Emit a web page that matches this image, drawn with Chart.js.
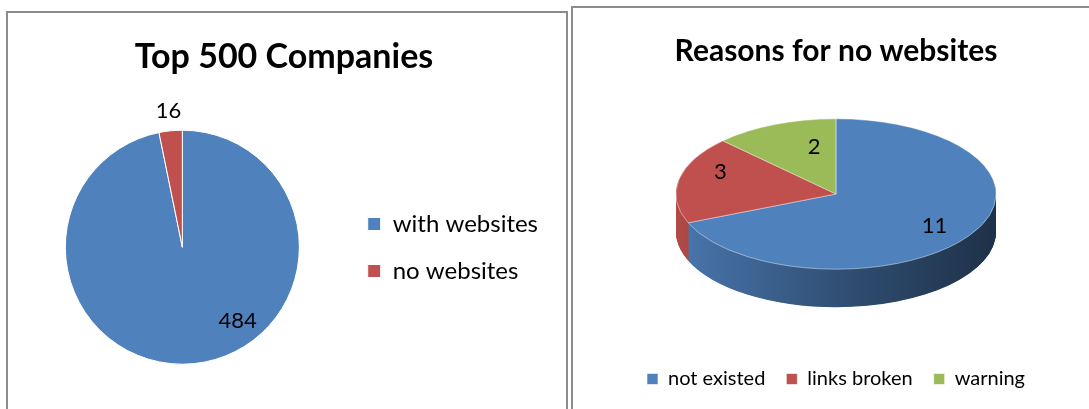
<!DOCTYPE html>
<html>
<head>
<meta charset="utf-8">
<title>Top 500 Companies</title>
<script src="https://cdn.jsdelivr.net/npm/chart.js@4.4.1/dist/chart.umd.min.js"></script>
<style>
  html, body { margin: 0; padding: 0; background: #fff; overflow: hidden; }
  .panel { position: absolute; border: 2px solid #8c8c8c; box-sizing: border-box; background: #fff; }
  #leftPanel { left: 6px; top: 11px; width: 562px; height: 440px; }
  #rightPanel { left: 571px; top: 6px; width: 560px; height: 440px; }
  .panel canvas { position: absolute; left: 0; top: 0; }
</style>
</head>
<body>
<div class="panel" id="leftPanel"><canvas id="companies" width="558" height="396"></canvas></div>
<div class="panel" id="rightPanel"><canvas id="reasons" width="526" height="401"></canvas></div>
<script>
const companyLabels = ['with websites', 'no websites'];
const companyCounts = [484, 16];

const reasonLabels = ['not existed', 'links broken', 'warning'];
const reasonCounts = [11, 3, 2];

const sliceColors = ['#4f81bd', '#c0504d', '#9bbb59'];

const FONT = 'Lato, "Open Sans", sans-serif';
Chart.defaults.font.family = FONT;
Chart.defaults.color = '#000';

const shade = (hex, k) => {
    const n = parseInt(hex.slice(1), 16);
    const r = Math.round(((n >> 16) & 255) * k);
    const g = Math.round(((n >> 8) & 255) * k);
    const b = Math.round((n & 255) * k);
    return `rgb(${r},${g},${b})`;
};

// squashes the pie into an ellipse, extrudes a side wall and writes the values
const pieExtras = {
    id: 'pieExtras',
    beforeDatasetsDraw(chart, args, opts) {
        const arcs = chart.getDatasetMeta(0).data;
        const ctx = chart.ctx;
        const { x, y, outerRadius } = arcs[0];
        const tilt = opts.tilt || 1;
        const depth = opts.depth || 0;
        ctx.save();
        ctx.translate(x, y - (opts.lift || 0));
        ctx.scale(1, tilt);
        ctx.translate(-x, -y);
        if (!depth) return;

        const fills = arcs.map((arc, i) => {
            const base = chart.data.datasets[0].backgroundColor[i];
            const grad = ctx.createLinearGradient(x - outerRadius, 0, x + outerRadius, 0);
            grad.addColorStop(0, shade(base, 0.92));
            grad.addColorStop(0.5, shade(base, 0.62));
            grad.addColorStop(1, shade(base, 0.38));
            return grad;
        });
        // deepest layer first so the rim nearest the top wins
        for (let d = depth; d > 0; d -= 0.5) {
            arcs.forEach((arc, i) => {
                ctx.fillStyle = fills[i];
                ctx.beginPath();
                ctx.moveTo(x, y + d / tilt);
                ctx.arc(x, y + d / tilt, outerRadius, arc.startAngle, arc.endAngle);
                ctx.closePath();
                ctx.fill();
            });
        }
    },
    afterDatasetsDraw(chart, args, opts) {
        const ctx = chart.ctx;
        ctx.restore();

        const arcs = chart.getDatasetMeta(0).data;
        const values = chart.data.datasets[0].data;
        const tilt = opts.tilt || 1;
        const lift = opts.lift || 0;
        const place = opts.labelPlace || [];
        ctx.save();
        ctx.fillStyle = '#000';
        ctx.font = opts.labelFont;
        ctx.textAlign = 'center';
        ctx.textBaseline = 'middle';
        arcs.forEach((arc, i) => {
            const p = place[i] || {};
            const a = (arc.startAngle + arc.endAngle) / 2 + (p.turn || 0) * Math.PI / 180;
            const r = arc.outerRadius * (p.r ?? 0.65);
            ctx.fillText(String(values[i]), arc.x + Math.cos(a) * r, arc.y + Math.sin(a) * r * tilt - lift);
        });
        ctx.restore();
    },
};

new Chart(document.getElementById('companies'), {
    type: 'pie',
    data: {
        labels: companyLabels,
        datasets: [{
            data: companyCounts,
            backgroundColor: sliceColors.slice(0, 2),
            borderColor: '#fff',
            borderWidth: 1,
            radius: 117,
            clip: false,
        }],
    },
    options: {
        responsive: false,
        animation: false,
        events: [],
        layout: { padding: { left: 12, right: 18, top: 0, bottom: 0 } },
        plugins: {
            title: {
                display: true,
                text: 'Top 500 Companies',
                color: '#000',
                font: { size: 34, weight: 'bold' },
                padding: { top: 24, bottom: 7.6 },
            },
            legend: {
                position: 'right',
                // blank legend title just pushes the entries below the chart title
                title: { display: true, text: ' ', font: { size: 10 }, padding: { top: 61, bottom: 0 } },
                labels: { boxWidth: 13, boxHeight: 13, padding: 23, color: '#000', font: { size: 24 } },
            },
            tooltip: { enabled: false },
            pieExtras: {
                tilt: 1,
                depth: 0,
                labelFont: `22px ${FONT}`,
                labelPlace: [{ turn: -31, r: 0.79 }, { r: 1.17 }],
            },
        },
    },
    plugins: [pieExtras],
});

new Chart(document.getElementById('reasons'), {
    type: 'pie',
    data: {
        labels: reasonLabels,
        datasets: [{
            data: reasonCounts,
            backgroundColor: sliceColors,
            borderColor: 'rgba(255,255,255,0.6)',
            borderWidth: 1,
            radius: 160,
            clip: false,
        }],
    },
    options: {
        responsive: false,
        animation: false,
        events: [],
        layout: { padding: { left: 0, right: 0, top: 0, bottom: 10 } },
        plugins: {
            title: {
                display: true,
                text: 'Reasons for no websites',
                color: '#000',
                font: { size: 30, weight: 'bold' },
                padding: { top: 25, bottom: 7 },
            },
            legend: {
                position: 'bottom',
                labels: { boxWidth: 11, boxHeight: 11, padding: 21, color: '#000', font: { size: 20 } },
            },
            tooltip: { enabled: false },
            pieExtras: {
                tilt: 0.47,
                depth: 38,
                lift: 18,
                labelFont: `22px ${FONT}`,
                labelPlace: [{ turn: 1, r: 0.75 }, { turn: 10.9, r: 0.78 }, { turn: 10.1, r: 0.64 }],
            },
        },
    },
    plugins: [pieExtras],
});
</script>
</body>
</html>
